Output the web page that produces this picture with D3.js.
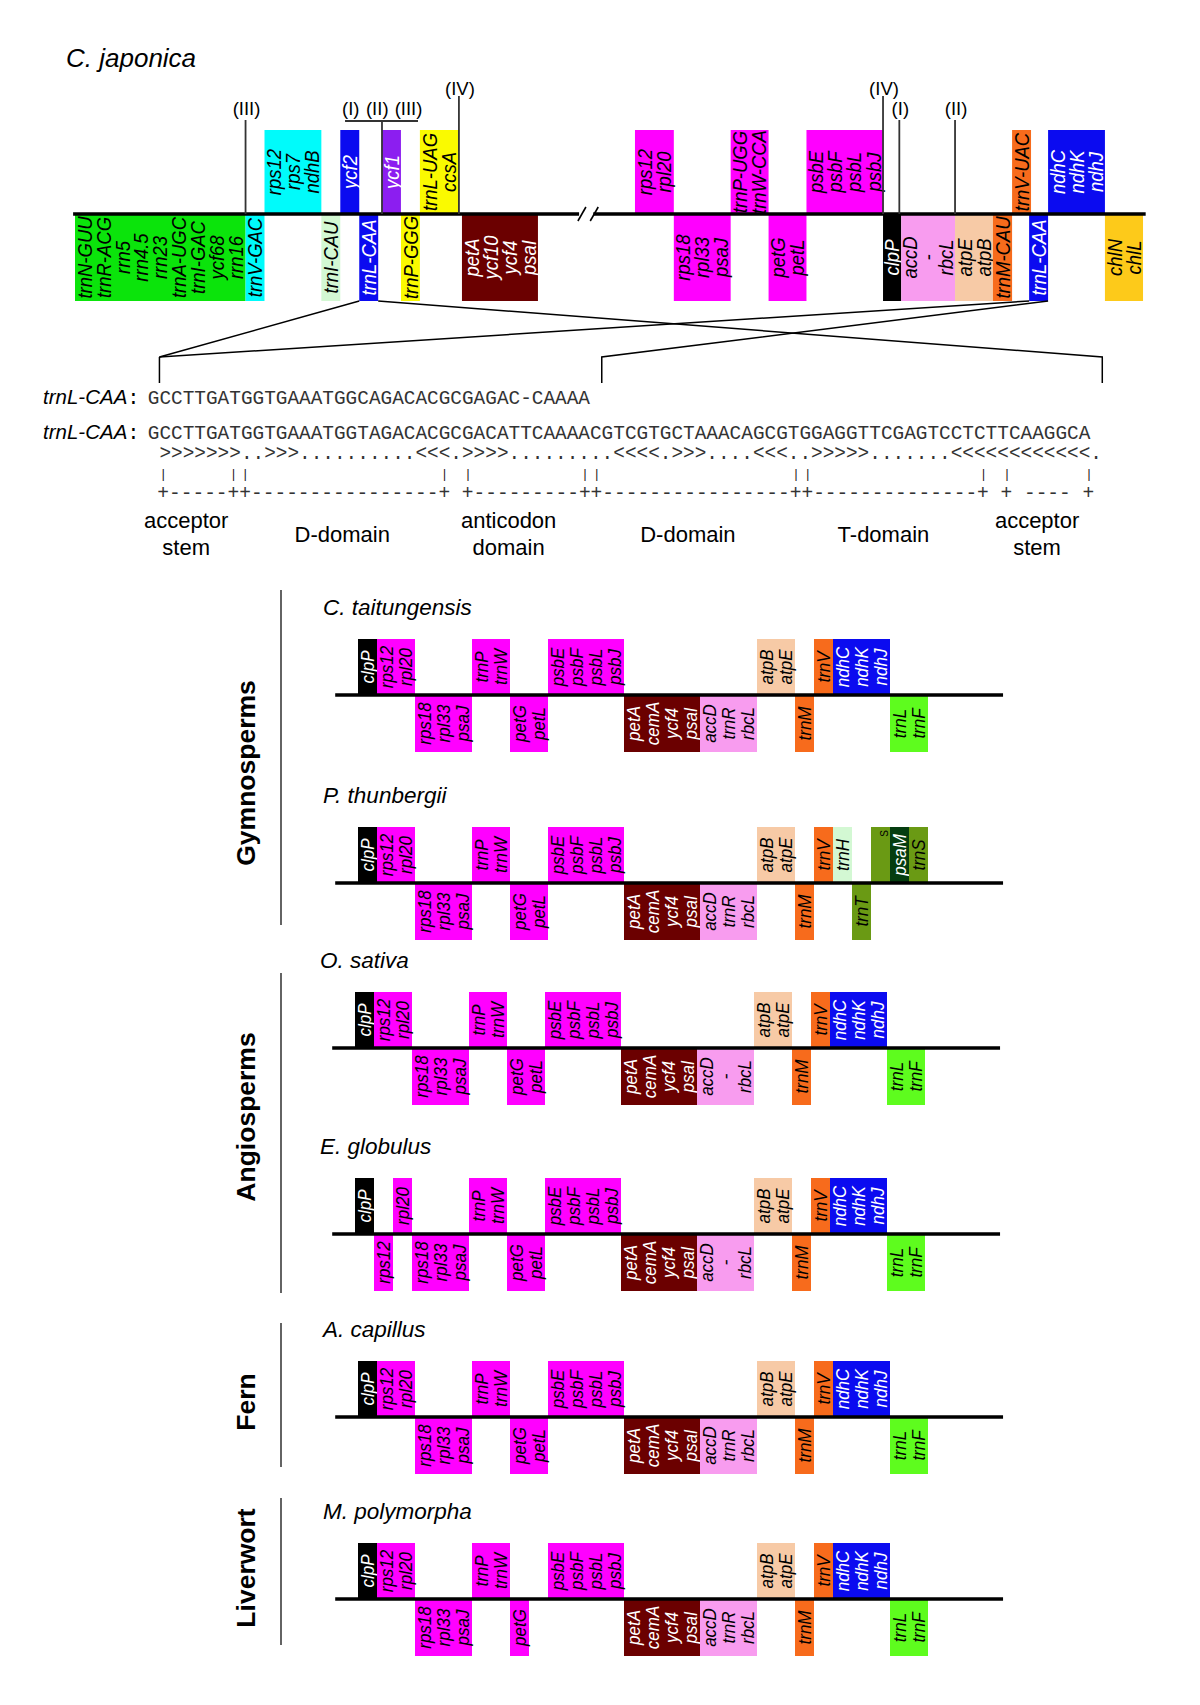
<!DOCTYPE html>
<html><head><meta charset="utf-8">
<script src="https://cdn.jsdelivr.net/npm/d3@7"></script>
<style>body{margin:0;background:#fff;} svg{display:block;}</style>
</head><body>
<svg id="chart" width="1200" height="1705"></svg>
<script>
// ---------------- DATA ----------------
// C. japonica gene map: labels, start/end in gene-slot units, strand (+1 above, -1 below), colour class
const japonicaGenes = [
  {labels:["trnN-GUU","trnR-ACG","rrn5","rrn4.5","rrn23","trnA-UGC","trnI-GAC","ycf68","rrn16"], start:0, end:9, strand:-1, cls:"rRNA"},
  {labels:["trnV-GAC"], start:9, end:10, strand:-1, cls:"cyan"},
  {labels:["rps12","rps7","ndhB"], start:10, end:13, strand:1, cls:"cyan"},
  {labels:["trnI-CAU"], start:13, end:14, strand:-1, cls:"pale"},
  {labels:["ycf2"], start:14, end:15, strand:1, cls:"blue"},
  {labels:["trnL-CAA"], start:15, end:16, strand:-1, cls:"blue", zoom:1},
  {labels:["ycf1"], start:16.2, end:17.2, strand:1, cls:"purple"},
  {labels:["trnP-GGG"], start:17.2, end:18.2, strand:-1, cls:"yellow"},
  {labels:["trnL-UAG","ccsA"], start:18.2, end:20.26, strand:1, cls:"yellow"},
  {labels:["petA","ycf10","ycf4","psaI"], start:20.42, end:24.43, strand:-1, cls:"darkred"},
  {labels:["rps12","rpl20"], start:29.55, end:31.6, strand:1, cls:"magenta"},
  {labels:["rps18","rpl33","psaJ"], start:31.6, end:34.6, strand:-1, cls:"magenta"},
  {labels:["trnP-UGG","trnW-CCA"], start:34.6, end:36.6, strand:1, cls:"magenta"},
  {labels:["petG","petL"], start:36.6, end:38.6, strand:-1, cls:"magenta"},
  {labels:["psbE","psbF","psbL","psbJ"], start:38.6, end:42.64, strand:1, cls:"magenta"},
  {labels:["clpP"], start:42.64, end:43.6, strand:-1, cls:"black"},
  {labels:["accD","-","rbcL"], start:43.6, end:46.44, strand:-1, cls:"pink"},
  {labels:["atpE","atpB"], start:46.44, end:48.44, strand:-1, cls:"peach"},
  {labels:["trnM-CAU"], start:48.44, end:49.45, strand:-1, cls:"orange"},
  {labels:["trnV-UAC"], start:49.45, end:50.45, strand:1, cls:"orange"},
  {labels:["trnL-CAA"], start:50.35, end:51.35, strand:-1, cls:"blue", zoom:2},
  {labels:["ndhC","ndhK","ndhJ"], start:51.35, end:54.35, strand:1, cls:"blue"},
  {labels:["chlN","chlL"], start:54.35, end:56.36, strand:-1, cls:"gold"}
];
const japonicaLineSegments = [[-0.1, 26.6], [27.35, 56.5]];
const japonicaBreaks = [26.75, 27.4];
// inversion end points marked with roman numerals
const japonicaMarkers = [
  {label:"(III)", pos:9, level:"low"},
  {label:"(IV)", pos:20.26, level:"high"},
  {label:"(IV)", pos:42.64, level:"high"},
  {label:"(I)", pos:43.5, level:"low"},
  {label:"(II)", pos:46.44, level:"low"}
];
const bracketLabels = ["(I)","(II)","(III)"];
const bracketLabelPos = [14.55, 15.95, 17.6];
const bracketSpan = [14.25, 18.1];
const bracketStem = 16.2;

// trnL-CAA sequences and secondary structure
const seqLabel = "trnL-CAA";
const seqShort = "GCCTTGATGGTGAAATGGCAGACACGCGAGAC-CAAAA";
const seqLong  = "GCCTTGATGGTGAAATGGTAGACACGCGACATTCAAAACGTCGTGCTAAACAGCGTGGAGGTTCGAGTCCTCTTCAAGGCA";
const structure = " >>>>>>>..>>>..........<<<.>>>>.........<<<<.>>>....<<<..>>>>>.......<<<<<<<<<<<<.";
const domainBounds = [1,7,8,25,27,37,38,55,56,71,73,80];
const domainRuler = " +-----++----------------+ +---------++----------------++--------------+ + ---- +";
const domainNames = [["acceptor","stem"],["D-domain"],["anticodon","domain"],["D-domain"],["T-domain"],["acceptor","stem"]];
const domainCenters = [3.3, 16.7, 31.0, 46.4, 63.2, 76.4];
const zoomVertexLeft = 1;     // char index where both expansions meet on the left
const zoomVertexRight = [82, 39]; // char index of right vertex for box 1 and box 2

// comparative maps (slot units)
const genesTaitungensis = [
  {labels:["clpP"], start:0, end:1, strand:1, cls:"black"},
  {labels:["rps12","rpl20"], start:1, end:3, strand:1, cls:"magenta"},
  {labels:["rps18","rpl33","psaJ"], start:3, end:6, strand:-1, cls:"magenta"},
  {labels:["trnP","trnW"], start:6, end:8, strand:1, cls:"magenta"},
  {labels:["petG","petL"], start:8, end:10, strand:-1, cls:"magenta"},
  {labels:["psbE","psbF","psbL","psbJ"], start:10, end:14, strand:1, cls:"magenta"},
  {labels:["petA","cemA","ycf4","psaI"], start:14, end:18, strand:-1, cls:"darkred"},
  {labels:["accD","trnR","rbcL"], start:18, end:21, strand:-1, cls:"pink"},
  {labels:["atpB","atpE"], start:21, end:23, strand:1, cls:"peach"},
  {labels:["trnM"], start:23, end:24, strand:-1, cls:"orange"},
  {labels:["trnV"], start:24, end:25, strand:1, cls:"orange"},
  {labels:["ndhC","ndhK","ndhJ"], start:25, end:28, strand:1, cls:"blue"},
  {labels:["trnL","trnF"], start:28, end:30, strand:-1, cls:"lime"}
];
const genesThunbergii = [
  {labels:["clpP"], start:0, end:1, strand:1, cls:"black"},
  {labels:["rps12","rpl20"], start:1, end:3, strand:1, cls:"magenta"},
  {labels:["rps18","rpl33","psaJ"], start:3, end:6, strand:-1, cls:"magenta"},
  {labels:["trnP","trnW"], start:6, end:8, strand:1, cls:"magenta"},
  {labels:["petG","petL"], start:8, end:10, strand:-1, cls:"magenta"},
  {labels:["psbE","psbF","psbL","psbJ"], start:10, end:14, strand:1, cls:"magenta"},
  {labels:["petA","cemA","ycf4","psaI"], start:14, end:18, strand:-1, cls:"darkred"},
  {labels:["accD","trnR","rbcL"], start:18, end:21, strand:-1, cls:"pink"},
  {labels:["atpB","atpE"], start:21, end:23, strand:1, cls:"peach"},
  {labels:["trnM"], start:23, end:24, strand:-1, cls:"orange"},
  {labels:["trnV"], start:24, end:25, strand:1, cls:"orange"},
  {labels:["trnH"], start:25, end:26, strand:1, cls:"pale"},
  {labels:["trnT"], start:26, end:27, strand:-1, cls:"olive"},
  {labels:["S"], start:27, end:28, strand:1, cls:"olive", tiny:true},
  {labels:["psaM"], start:28, end:29, strand:1, cls:"darkgreen"},
  {labels:["trnS"], start:29, end:30, strand:1, cls:"olive"}
];
const genesSativa = [
  {labels:["clpP"], start:0, end:1, strand:1, cls:"black"},
  {labels:["rps12","rpl20"], start:1, end:3, strand:1, cls:"magenta"},
  {labels:["rps18","rpl33","psaJ"], start:3, end:6, strand:-1, cls:"magenta"},
  {labels:["trnP","trnW"], start:6, end:8, strand:1, cls:"magenta"},
  {labels:["petG","petL"], start:8, end:10, strand:-1, cls:"magenta"},
  {labels:["psbE","psbF","psbL","psbJ"], start:10, end:14, strand:1, cls:"magenta"},
  {labels:["petA","cemA","ycf4","psaI"], start:14, end:18, strand:-1, cls:"darkred"},
  {labels:["accD","-","rbcL"], start:18, end:21, strand:-1, cls:"pink"},
  {labels:["atpB","atpE"], start:21, end:23, strand:1, cls:"peach"},
  {labels:["trnM"], start:23, end:24, strand:-1, cls:"orange"},
  {labels:["trnV"], start:24, end:25, strand:1, cls:"orange"},
  {labels:["ndhC","ndhK","ndhJ"], start:25, end:28, strand:1, cls:"blue"},
  {labels:["trnL","trnF"], start:28, end:30, strand:-1, cls:"lime"}
];
const genesGlobulus = [
  {labels:["clpP"], start:0, end:1, strand:1, cls:"black"},
  {labels:["rps12"], start:1, end:2, strand:-1, cls:"magenta"},
  {labels:["rpl20"], start:2, end:3, strand:1, cls:"magenta"},
  {labels:["rps18","rpl33","psaJ"], start:3, end:6, strand:-1, cls:"magenta"},
  {labels:["trnP","trnW"], start:6, end:8, strand:1, cls:"magenta"},
  {labels:["petG","petL"], start:8, end:10, strand:-1, cls:"magenta"},
  {labels:["psbE","psbF","psbL","psbJ"], start:10, end:14, strand:1, cls:"magenta"},
  {labels:["petA","cemA","ycf4","psaI"], start:14, end:18, strand:-1, cls:"darkred"},
  {labels:["accD","-","rbcL"], start:18, end:21, strand:-1, cls:"pink"},
  {labels:["atpB","atpE"], start:21, end:23, strand:1, cls:"peach"},
  {labels:["trnM"], start:23, end:24, strand:-1, cls:"orange"},
  {labels:["trnV"], start:24, end:25, strand:1, cls:"orange"},
  {labels:["ndhC","ndhK","ndhJ"], start:25, end:28, strand:1, cls:"blue"},
  {labels:["trnL","trnF"], start:28, end:30, strand:-1, cls:"lime"}
];
const genesCapillus = genesTaitungensis;
const genesPolymorpha = [
  {labels:["clpP"], start:0, end:1, strand:1, cls:"black"},
  {labels:["rps12","rpl20"], start:1, end:3, strand:1, cls:"magenta"},
  {labels:["rps18","rpl33","psaJ"], start:3, end:6, strand:-1, cls:"magenta"},
  {labels:["trnP","trnW"], start:6, end:8, strand:1, cls:"magenta"},
  {labels:["petG"], start:8, end:9, strand:-1, cls:"magenta"},
  {labels:["psbE","psbF","psbL","psbJ"], start:10, end:14, strand:1, cls:"magenta"},
  {labels:["petA","cemA","ycf4","psaI"], start:14, end:18, strand:-1, cls:"darkred"},
  {labels:["accD","trnR","rbcL"], start:18, end:21, strand:-1, cls:"pink"},
  {labels:["atpB","atpE"], start:21, end:23, strand:1, cls:"peach"},
  {labels:["trnM"], start:23, end:24, strand:-1, cls:"orange"},
  {labels:["trnV"], start:24, end:25, strand:1, cls:"orange"},
  {labels:["ndhC","ndhK","ndhJ"], start:25, end:28, strand:1, cls:"blue"},
  {labels:["trnL","trnF"], start:28, end:30, strand:-1, cls:"lime"}
];
const speciesNames = ["C. taitungensis","P. thunbergii","O. sativa","E. globulus","A. capillus","M. polymorpha"];
const speciesGenes = [genesTaitungensis, genesThunbergii, genesSativa, genesGlobulus, genesCapillus, genesPolymorpha];
const groupNames = ["Gymnosperms","Angiosperms","Fern","Liverwort"];
const panelLineSpan = [-1.2, 33.95];

// ---------------- STYLE / LAYOUT ----------------
const colors = {
  rRNA:"#0be40b", cyan:"#00fbfb", blue:"#0b0bf0", purple:"#8c1ef0", yellow:"#fafa00",
  pale:"#d3f8d3", darkred:"#6b0000", magenta:"#ff00ff", pink:"#f89cef", peach:"#f7caa6",
  orange:"#f76b1c", black:"#000000", gold:"#fdca1a", lime:"#5efc1e", olive:"#6a9a14", darkgreen:"#053d10"
};
const whiteText = new Set(["blue","purple","darkred","black","darkgreen"]);
const SANS = "'Liberation Sans', Arial, Helvetica, sans-serif";
const MONO = "'Liberation Mono', 'Courier New', monospace";

const svg = d3.select("#chart");

function drawBox(g, x0, x1, yTop, yBot, gene, fs) {
  g.append("rect").attr("x", x0).attr("y", yTop).attr("width", x1 - x0).attr("height", yBot - yTop)
    .attr("fill", colors[gene.cls]);
  const n = gene.labels.length, w = (x1 - x0) / n, cy = (yTop + yBot) / 2;
  const tc = whiteText.has(gene.cls) ? "#ffffff" : "#000000";
  gene.labels.forEach((t, i) => {
    const cx = x0 + w * (i + 0.5);
    if (gene.tiny) {
      g.append("text").attr("transform", `translate(${cx + 4},${yTop + 3}) rotate(-90)`)
        .attr("text-anchor", "end").attr("dy", "0.35em")
        .attr("font-family", SANS).attr("font-size", 10).attr("fill", "#000").text(t);
      return;
    }
    g.append("text").attr("transform", `translate(${cx},${cy}) rotate(-90) scale(1,1.1)`)
      .attr("text-anchor", "middle").attr("dy", "0.35em")
      .attr("font-family", SANS).attr("font-style", "italic").attr("font-size", fs)
      .attr("fill", tc).text(t);
  });
}

// ---------------- C. japonica map ----------------
const jx = d3.scaleLinear().domain([0, 1]).range([75, 75 + 18.95]);
const jLine = 214, jTop = 130, jBot = 301;
const gJ = svg.append("g");

svg.append("text").attr("x", 66).attr("y", 67).attr("font-family", SANS).attr("font-style", "italic")
  .attr("font-size", 26).text("C. japonica");

japonicaGenes.forEach(d => {
  const up = d.strand > 0;
  drawBox(gJ, jx(d.start), jx(d.end), up ? jTop : jLine, up ? jLine : jBot, d, 18.5);
});
japonicaLineSegments.forEach(s => {
  gJ.append("line").attr("x1", jx(s[0])).attr("x2", jx(s[1])).attr("y1", jLine).attr("y2", jLine)
    .attr("stroke", "#000").attr("stroke-width", 3.6);
});
japonicaBreaks.forEach(b => {
  gJ.append("line").attr("x1", jx(b) - 4).attr("x2", jx(b) + 4).attr("y1", jLine + 7).attr("y2", jLine - 7)
    .attr("stroke", "#000").attr("stroke-width", 1.6);
});
// markers
japonicaMarkers.forEach(m => {
  const base = m.level === "high" ? 95 : 115;
  const top = m.level === "high" ? 96 : 120;
  gJ.append("line").attr("x1", jx(m.pos)).attr("x2", jx(m.pos)).attr("y1", top).attr("y2", jLine)
    .attr("stroke", "#333").attr("stroke-width", 1.8);
  gJ.append("text").attr("x", jx(m.pos) + 1).attr("y", base).attr("text-anchor", "middle")
    .attr("font-family", SANS).attr("font-size", 18.5).text(m.label);
});
gJ.append("line").attr("x1", jx(bracketSpan[0])).attr("x2", jx(bracketSpan[1])).attr("y1", 121).attr("y2", 121)
  .attr("stroke", "#333").attr("stroke-width", 1.8);
gJ.append("line").attr("x1", jx(bracketStem)).attr("x2", jx(bracketStem)).attr("y1", 121).attr("y2", jLine)
  .attr("stroke", "#333").attr("stroke-width", 1.8);
bracketLabels.forEach((t, i) => {
  gJ.append("text").attr("x", jx(bracketLabelPos[i])).attr("y", 115).attr("text-anchor", "middle")
    .attr("font-family", SANS).attr("font-size", 18.5).text(t);
});

// ---------------- sequences ----------------
const cx = d3.scaleLinear().domain([0, 81]).range([147.8, 147.8 + 81 * 11.64]);
const mx = d3.scaleLinear().domain([0, 81]).range([145.6, 145.6 + 81 * 11.72]);
const gS = svg.append("g");

// expansion lines from the two trnL-CAA boxes
const zoomBoxes = japonicaGenes.filter(d => d.zoom);
const vY = 357, vBottom = 383;
zoomBoxes.forEach((d, i) => {
  const xl = jx(d.start), xr = jx(d.end);
  const rv = cx(zoomVertexRight[i]);
  gS.append("polyline").attr("points", `${xl},${jBot} ${cx(zoomVertexLeft)},${vY}`)
    .attr("fill", "none").attr("stroke", "#000").attr("stroke-width", 1.5);
  gS.append("polyline").attr("points", `${xr},${jBot} ${rv},${vY} ${rv},${vBottom}`)
    .attr("fill", "none").attr("stroke", "#000").attr("stroke-width", 1.5);
});
gS.append("line").attr("x1", cx(zoomVertexLeft)).attr("x2", cx(zoomVertexLeft)).attr("y1", vY).attr("y2", vBottom)
  .attr("stroke", "#000").attr("stroke-width", 1.5);

[[seqShort, 404], [seqLong, 439]].forEach(([s, y]) => {
  const t = gS.append("text").attr("x", 43).attr("y", y).attr("font-family", SANS).attr("font-size", 20.5);
  t.append("tspan").attr("font-style", "italic").text(seqLabel);
  t.append("tspan").attr("font-family", MONO).text(":");
  gS.append("text").attr("x", cx(0)).attr("y", y).attr("font-family", MONO).attr("font-size", 19.4)
    .attr("fill", "#333").style("white-space", "pre").text(s);
});
gS.append("text").attr("x", cx(0)).attr("y", 459).attr("font-family", MONO).attr("font-size", 19.4)
  .attr("fill", "#333").style("white-space", "pre").text(structure);
domainBounds.forEach(i => {
  gS.append("text").attr("x", mx(i + 0.5)).attr("y", 478).attr("text-anchor", "middle")
    .attr("font-family", MONO).attr("font-size", 12.5).attr("fill", "#222").text("|");
});
gS.append("text").attr("x", mx(0)).attr("y", 499).attr("font-family", MONO).attr("font-size", 19.53)
  .attr("fill", "#333").style("white-space", "pre").text(domainRuler);
domainNames.forEach((lines, i) => {
  const x = cx(domainCenters[i]);
  const ys = lines.length === 2 ? [528, 555] : [542];
  lines.forEach((t, j) => {
    gS.append("text").attr("x", x).attr("y", ys[j]).attr("text-anchor", "middle")
      .attr("font-family", SANS).attr("font-size", 22).text(t);
  });
});

// ---------------- comparative panels ----------------
const panelLineY = [695, 883, 1048, 1234, 1417, 1599];
const panelShift = [0, 0, -3, -3, 0, 0];
const panelUp = 56, panelDown = 57;
speciesNames.forEach((name, p) => {
  const px = d3.scaleLinear().domain([0, 1]).range([358 + panelShift[p], 358 + panelShift[p] + 19]);
  const ly = panelLineY[p];
  const g = svg.append("g");
  g.append("text").attr("x", 323 + panelShift[p]).attr("y", ly - 80).attr("font-family", SANS)
    .attr("font-style", "italic").attr("font-size", 22.5).text(name);
  speciesGenes[p].forEach(d => {
    const up = d.strand > 0;
    drawBox(g, px(d.start), px(d.end), up ? ly - panelUp : ly, up ? ly : ly + panelDown, d, 17);
  });
  g.append("line").attr("x1", px(panelLineSpan[0])).attr("x2", px(panelLineSpan[1]))
    .attr("y1", ly).attr("y2", ly).attr("stroke", "#000").attr("stroke-width", 3.4);
});

// group labels and dividers
const groupDivider = [[590, 925], [973, 1293], [1323, 1467], [1498, 1645]];
const groupLabelY = [773, 1117, 1402, 1568];
groupNames.forEach((n, i) => {
  svg.append("line").attr("x1", 281).attr("x2", 281).attr("y1", groupDivider[i][0]).attr("y2", groupDivider[i][1])
    .attr("stroke", "#222").attr("stroke-width", 1.4);
  svg.append("text").attr("transform", `translate(255,${groupLabelY[i]}) rotate(-90)`)
    .attr("text-anchor", "middle").attr("font-family", SANS).attr("font-weight", "bold")
    .attr("font-size", 26.5).text(n);
});
</script>
</body></html>
